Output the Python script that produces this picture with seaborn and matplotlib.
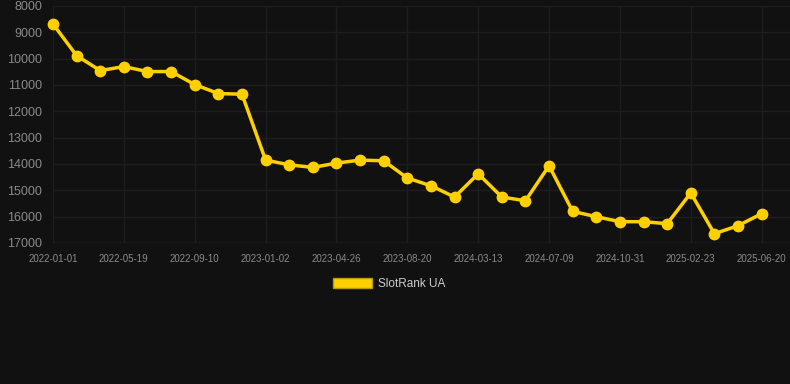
import matplotlib
matplotlib.use("Agg")
import matplotlib.pyplot as plt
import matplotlib.patches as mpatches
import seaborn as sns
import pandas as pd

dates = [
    "2022-01-01", "2022-02-16", "2022-04-03", "2022-05-19", "2022-06-26",
    "2022-08-03", "2022-09-10", "2022-10-24", "2022-11-28", "2023-01-02",
    "2023-02-10", "2023-03-20", "2023-04-26", "2023-06-03", "2023-07-12",
    "2023-08-20", "2023-11-01", "2024-01-10", "2024-03-13", "2024-04-20",
    "2024-05-30", "2024-07-09", "2024-08-20", "2024-09-25", "2024-10-31",
    "2024-12-10", "2025-01-18", "2025-02-23", "2025-04-01", "2025-05-10",
    "2025-06-20",
]
ranks = [
    8683, 9885, 10453, 10300, 10490, 10490, 10984, 11325, 11349, 13852,
    14030, 14131, 13966, 13852, 13878, 14534, 14826, 15255, 14371, 15255,
    15395, 14067, 15800, 16001, 16191, 16191, 16267, 15100, 16647, 16343,
    15887,
]
series_name = "SlotRank UA"
y_ticks = [8000, 9000, 10000, 11000, 12000, 13000, 14000, 15000, 16000, 17000]

bg = "#111111"
grid_c = "#1d1d1d"
line_c = "#FFD000"

sns.set_style("dark")
plt.rcParams["font.family"] = ["Liberation Sans", "DejaVu Sans"]

df = pd.DataFrame({"date": dates, "rank": ranks})

fig = plt.figure(figsize=(7.9, 3.84), dpi=100, facecolor=bg)
ax = fig.add_axes([53 / 790, 1 - 243 / 384, 1 - 53 / 790, (243 - 6) / 384])
ax.set_facecolor(bg)

sns.lineplot(data=df, x="date", y="rank", ax=ax, color=line_c, linewidth=2.5,
             marker="o", markersize=8.5, markeredgewidth=0, sort=False, clip_on=False)

ax.set_ylim(17000, 8000)
ax.set_yticks(y_ticks)
ax.set_xlim(0, 31.2)
ax.set_xticks(range(0, len(dates), 3))
ax.set_xticklabels(dates[::3])

ax.grid(True, color=grid_c, linewidth=1)
for s in ax.spines.values():
    s.set_visible(False)
ax.axhline(17000, color="#2a2a2a", linewidth=1)

ax.tick_params(axis="y", colors="#8a8a8a", labelsize=9, length=6, color=grid_c, pad=2)
ax.tick_params(axis="x", colors="#8a8a8a", labelsize=7, length=5, color=grid_c, pad=3)
ax.set_xlabel("")
ax.set_ylabel("")

handle = mpatches.Patch(facecolor=line_c, edgecolor="#b89a00", label=series_name)
fig.legend(handles=[handle], loc="center", bbox_to_anchor=(0.5 - 6 / 790, 1 - 284 / 384),
           frameon=False, fontsize=8.5, labelcolor="#cccccc",
           handlelength=3.3, handleheight=1.0, handletextpad=0.5)

fig.savefig("out.png", dpi=100, facecolor=bg)
